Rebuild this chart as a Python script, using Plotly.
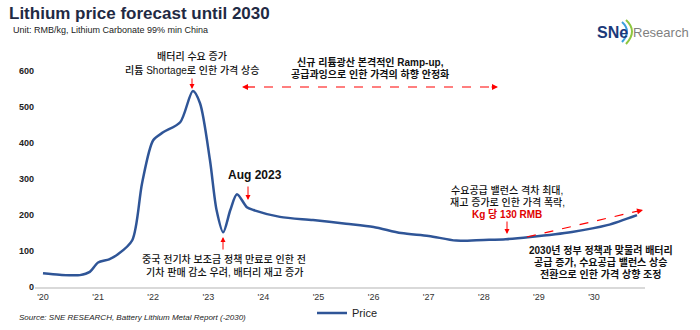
import plotly.graph_objects as go

# Lithium carbonate price (RMB/kg), actual + forecast
years = [2020.0, 2020.3, 2020.67, 2020.85, 2021.0, 2021.2, 2021.36, 2021.62, 2021.8,
         2022.0, 2022.18, 2022.49, 2022.72, 2022.85, 2023.03, 2023.15, 2023.27,
         2023.4, 2023.52, 2023.7, 2023.82, 2024.3, 2024.9, 2025.5, 2026.0, 2026.5,
         2027.0, 2027.5, 2028.0, 2028.4, 2028.84, 2029.6, 2030.24, 2030.78]
prices = [38, 34, 33, 42, 68, 77, 91, 130, 290,
          408, 430, 458, 545, 511, 353, 214, 152,
          214, 258, 222, 214, 195, 186, 176, 167, 150,
          142, 129, 131, 133, 139, 153, 172, 200]

tick_years = list(range(2020, 2031))
tick_labels = ["'20", "'21", "'22", "'23", "'24", "'25", "'26", "'27", "'28", "'29", "'30"]
y_ticks = [0, 100, 200, 300, 400, 500, 600]

W, H = 700, 330
L, R, T, B = 35, 55, 64, 43
PW, PH = W - L - R, H - T - B
X0 = 2019.855          # year at the left edge of the plot area
XPX = 55.1             # pixels per year
Y1 = 620               # value at the top of the plot area

def px(x):
    return (x - L) / PW

def py(y):
    return (H - B - y) / PH

def xv(pxx):
    return X0 + (pxx - L) / XPX

def yv(pyy):
    return (H - B - pyy) * Y1 / PH

FONT = "Arial, 'Liberation Sans', 'Noto Sans CJK KR', sans-serif"
RED = "#ff0000"
LINE = "#2f5597"

fig = go.Figure()
fig.add_trace(go.Scatter(
    x=years, y=prices, mode="lines", name="Price",
    line=dict(color=LINE, width=2.5, shape="spline", smoothing=0.8),
))

fig.update_layout(
    width=W, height=H,
    margin=dict(l=L, r=R, t=T, b=B, autoexpand=False),
    paper_bgcolor="white", plot_bgcolor="white",
    font=dict(family=FONT, color="#222"),
    showlegend=True,
    legend=dict(orientation="h", x=px(312), y=py(313), xanchor="left", yanchor="middle",
                font=dict(size=11, color="#222"), bgcolor="rgba(0,0,0,0)"),
    xaxis=dict(range=[X0, X0 + PW / XPX], tickvals=tick_years, ticktext=tick_labels,
               showgrid=False, zeroline=False, showline=True, linecolor="#d9d9d9", linewidth=2,
               ticks="", tickfont=dict(size=9, color="#333")),
    yaxis=dict(range=[0, Y1], tickvals=y_ticks, showgrid=False, zeroline=False, showline=False,
               ticks="", tickfont=dict(size=9, color="#222", weight="bold")),
)

ann = []

def text_at(x, y, text, size=10, color="#111", anchor="center", weight="normal"):
    ann.append(dict(x=px(x), y=py(y), xref="paper", yref="paper", xanchor=anchor,
                    yanchor="middle", text=text, showarrow=False, borderpad=0,
                    font=dict(size=size, color=color, family=FONT, weight=weight)))

def lines_at(x, ys, rows, **kw):
    for y, row in zip(ys, rows):
        text_at(x, y, row, **kw)

def arrow(x_tip, y_tip, x_tail, y_tail, width=1):
    ann.append(dict(x=xv(x_tip), y=yv(y_tip), ax=x_tail - x_tip, ay=y_tail - y_tip,
                    text="", showarrow=True, arrowhead=2, arrowsize=1,
                    arrowwidth=width, arrowcolor=RED))

# title block
text_at(8, 13, "<b>Lithium price forecast until 2030</b>", size=17, color="#1f2a44", anchor="left")
text_at(12, 30, "Unit: RMB/kg, Lithium Carbonate 99% min China", size=9, color="#222",
        anchor="left")

# logo
text_at(596, 32, "<b>SNe</b>", size=16, color="#1b3a7a", anchor="left")
text_at(632, 32, "Research", size=13, color="#7f7f7f", anchor="left")

# peak note
lines_at(192, [57, 70], ["배터리 수요 증가", "리튬 Shortage로 인한 가격 상승"], weight=500)
arrow(192, 89, 192, 77)

# oversupply note
lines_at(370, [62, 74], ["<b>신규 리튬광산 본격적인 Ramp-up,</b>",
                         "<b>공급과잉으로 인한 가격의 하향 안정화</b>"])

# Aug 2023 note
text_at(255, 175, "<b>Aug 2023</b>", size=12, color="#111")
arrow(248, 200, 248, 185)

# subsidy note
arrow(223, 237, 223, 251)
lines_at(224, [259, 272], ["중국 전기차 보조금 정책 만료로 인한 전",
                           "기차 판매 감소 우려, 배터리 재고 증가"], weight=500)

# trough note
lines_at(507, [190, 202], ["수요공급 밸런스 격차 최대,", "재고 증가로 인한 가격 폭락,"], weight=500)
text_at(507, 214, "<b>Kg 당 130 RMB</b>", color="#e00000")
arrow(507, 234, 507, 220)

# recovery note
lines_at(601, [250, 262, 274], ["<b>2030년 정부 정책과 맞물려 배터리</b>",
                                "<b>공급 증가, 수요공급 밸런스 상승</b>",
                                "<b>전환으로 인한 가격 상향 조정</b>"])

# source
text_at(18, 317, "<i>Source: SNE RESEARCH, Battery Lithium Metal Report (-2030)</i>",
        size=8, color="#222", anchor="left")

# dashed arrow lines with their heads
shapes = [
    dict(type="line", x0=xv(246), y0=yv(87), x1=xv(494), y1=yv(87),
         line=dict(color=RED, width=1.2, dash="dash")),
    dict(type="line", x0=xv(527), y0=yv(237), x1=xv(638), y1=yv(211),
         line=dict(color=RED, width=1.2, dash="dash")),
]
arrow(242, 87, 250, 87, width=1.2)
arrow(498, 87, 490, 87, width=1.2)
arrow(643, 210, 635, 212, width=1.2)

# logo arcs around the "e"
shapes.append(dict(type="path", xref="paper", yref="paper",
                   path=f"M {px(622)},{py(22)} Q {px(632)},{py(31)} {px(622)},{py(42)}",
                   line=dict(color="#3aa0dc", width=2)))
shapes.append(dict(type="path", xref="paper", yref="paper",
                   path=f"M {px(626)},{py(20)} Q {px(638)},{py(31)} {px(626)},{py(44)}",
                   line=dict(color="#8dc63f", width=2)))

fig.update_layout(annotations=ann, shapes=shapes)
fig.write_html("out.html")
